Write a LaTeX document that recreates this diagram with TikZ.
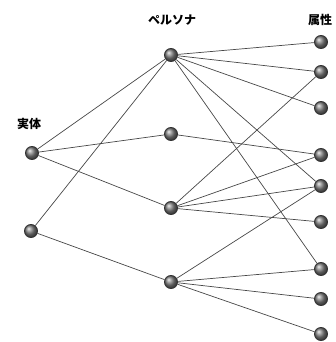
\documentclass[tikz,border=0pt]{standalone}
\usepackage{fontspec}
\newfontfamily\cjk{Noto Sans CJK JP}
\begin{document}
\begin{tikzpicture}[x=1pt,y=-1pt,
  dot/.style={circle,inner sep=0pt,minimum size=13pt,draw=black!80,line width=0.9pt,shading=ball,ball color=black!50},
  edge/.style={draw=black!72,line width=0.7pt},
  lbl/.style={font=\cjk\bfseries\fontsize{12}{14}\selectfont,inner sep=0pt,text=black}]
\useasboundingbox (0,0) rectangle (336,342);
\node[dot] (e1) at (32,153) {};
\node[dot] (e2) at (31,231) {};
\node[dot] (p1) at (171,55) {};
\node[dot] (p2) at (171,134) {};
\node[dot] (p3) at (171,208) {};
\node[dot] (p4) at (171,282) {};
\node[dot] (a1) at (321,42) {};
\node[dot] (a2) at (321,72) {};
\node[dot] (a3) at (321,108) {};
\node[dot] (a4) at (321,155) {};
\node[dot] (a5) at (321,186) {};
\node[dot] (a6) at (321,222) {};
\node[dot] (a7) at (321,269) {};
\node[dot] (a8) at (321,299) {};
\node[dot] (a9) at (321,334) {};
\node[lbl] (t1) at (29,124) {実体};
\node[lbl] (t2) at (172,20) {ペルソナ};
\node[lbl] (t3) at (320,20) {属性};
\begin{pgfonlayer}{main}\end{pgfonlayer}
\foreach \a/\b in {e1/p1,e1/p2,e1/p3,e2/p1,e2/p4,
  p1/a1,p1/a2,p1/a3,p1/a5,p1/a7,p2/a4,
  p3/a2,p3/a4,p3/a5,p3/a6,p4/a5,p4/a7,p4/a8,p4/a9}
  \draw[edge] (\a) -- (\b);
\end{tikzpicture}
\end{document}
